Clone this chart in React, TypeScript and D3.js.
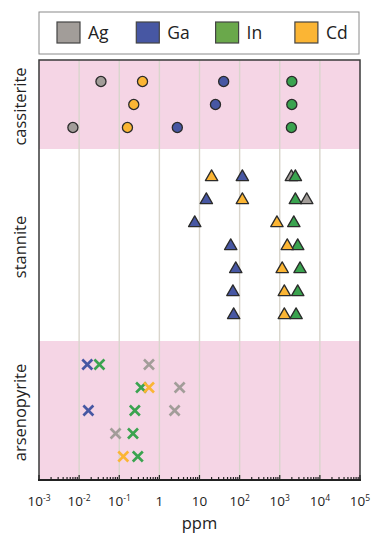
import React from "react";
import { scaleLog, scalePoint, symbol, symbolTriangle, symbolCircle } from "d3";

// minerals shown from top to bottom
const minerals = ["cassiterite", "stannite", "arsenopyrite"];
const elements = ["Ag", "Ga", "In", "Cd"];

// ppm values, one entry per analysed grain (null = not plotted)
const cassiterite = {
  Ag: [0.035, null, 0.007],
  Ga: [40, 25, 2.8],
  In: [2000, 2000, 1950],
  Cd: [0.38, 0.23, 0.16],
};
const stannite = {
  Ag: [1950, 4700, null, null, null, null, null],
  Ga: [117, 14.8, 7.6, 60, 80, 68, 71],
  In: [2450, 2450, 2240, 2800, 3200, 2800, 2550],
  Cd: [20, 117, 850, 1540, 1150, 1300, 1300],
};
const arsenopyrite = {
  Ag: [0.55, 3.2, 2.4, 0.081, null],
  Ga: [0.016, null, 0.017, null, null],
  In: [0.032, 0.35, 0.245, 0.22, 0.29],
  Cd: [null, 0.55, null, null, 0.126],
};
const decades = [-3, -2, -1, 0, 1, 2, 3, 4, 5];

const colors = {
  Ag: "#a29d99",
  Ga: "#4757a3",
  In: "#3aa34f",
  Cd: "#fbb534",
};
const legendColors = { ...colors, In: "#6aa84b" };

const W = 377;
const H = 550;
const left = 39;
const right = 360;
const top = 60;
const bottom = 480;
// band edges for each mineral
const bands = [
  [60, 149],
  [149, 341],
  [341, 480],
];
const rowStep = 23;
const font = "'Open Sans', sans-serif";

const datasets = { cassiterite, stannite, arsenopyrite };
const shapes = { cassiterite: "circle", stannite: "triangle", arsenopyrite: "cross" };

const x = scaleLog().domain([1e-3, 1e5]).range([left, right]);

const triPath = symbol().type(symbolTriangle).size(66)() as string;
const circPath = symbol().type(symbolCircle).size(80)() as string;

function Marker({ shape, color, cx, cy }) {
  if (shape === "circle")
    return <path d={circPath} transform={`translate(${cx},${cy})`} fill={color} stroke="#2b2b2b" strokeWidth={1.3} />;
  if (shape === "triangle")
    return <path d={triPath} transform={`translate(${cx},${cy + 1})`} fill={color} stroke="#2b2b2b" strokeWidth={1.3} strokeLinejoin="round" />;
  const s = 5;
  return (
    <g transform={`translate(${cx},${cy})`} stroke={color} strokeWidth={2.6}>
      <line x1={-s} y1={-s} x2={s} y2={s} />
      <line x1={-s} y1={s} x2={s} y2={-s} />
    </g>
  );
}

export default function App() {
  const minorTicks = x.ticks();
  return (
    <div style={{ position: "absolute", left: 0, top: 0 }}>
      <svg width={W} height={H} style={{ display: "block", background: "#fff" }}>
        {/* legend */}
        <rect x={39} y={12} width={320} height={42} fill="#fff" stroke="#8a8a8a" strokeWidth={1} />
        {elements.map((el, i) => (
          <g key={el} transform={`translate(${57 + i * 79.3},22)`}>
            <rect width={23} height={21} fill={legendColors[el]} stroke="#444" strokeWidth={1.2} />
            <text x={31} y={17} fontFamily={font} fontSize={17.5} fill="#222">{el}</text>
          </g>
        ))}

        {/* bands */}
        {minerals.map((m, i) => (
          <rect key={m} x={left} y={bands[i][0]} width={right - left} height={bands[i][1] - bands[i][0]}
            fill={i === 1 ? "#fff" : "#f5d5e5"} />
        ))}

        {/* grid */}
        {decades.slice(1, -1).map((d) => (
          <line key={d} x1={x(10 ** d)} x2={x(10 ** d)} y1={top} y2={bottom} stroke="#d9d5cc" strokeWidth={1.4} />
        ))}

        {/* points */}
        {minerals.map((m, i) => {
          const data = datasets[m];
          const n = data.In.length;
          const c = (bands[i][0] + bands[i][1]) / 2;
          const y = scalePoint<number>()
            .domain(data.In.map((_, k) => k))
            .range([c - ((n - 1) * rowStep) / 2, c + ((n - 1) * rowStep) / 2]);
          return (
            <g key={m}>
              {elements.map((el) =>
                data[el].map((v, k) =>
                  v == null ? null : (
                    <Marker key={el + k} shape={shapes[m]} color={colors[el]} cx={x(v)} cy={y(k)} />
                  )
                )
              )}
            </g>
          );
        })}

        {/* frame */}
        <rect x={left} y={top} width={right - left} height={bottom - top} fill="none" stroke="#3a3a3a" strokeWidth={1.5} />
        <line x1={left - 1} x2={right + 1} y1={bottom} y2={bottom} stroke="#222" strokeWidth={2.2} />

        {/* ticks */}
        {minorTicks.map((t, i) => {
          const major = Math.abs(Math.log10(t) - Math.round(Math.log10(t))) < 1e-6;
          return (
            <line key={i} x1={x(t)} x2={x(t)} y1={bottom} y2={bottom - (major ? 5 : 3)} stroke="#222" strokeWidth={1.2} />
          );
        })}
        {decades.map((d) => (
          <text key={d} x={x(10 ** d)} y={506} textAnchor="middle" fontFamily={font} fontSize={13.5} fill="#222">
            {d === 0 ? "1" : d === 1 ? "10" : (
              <>
                10<tspan dy={-5} fontSize={8.5}>{d < 0 ? "-" + -d : String(d)}</tspan>
              </>
            )}
          </text>
        ))}
        <text x={(left + right) / 2} y={529} textAnchor="middle" fontFamily={font} fontSize={16.5} fill="#222">ppm</text>

        {/* mineral labels */}
        {minerals.map((m, i) => (
          <text key={m} transform={`translate(26,${(bands[i][0] + bands[i][1]) / 2 + 2}) rotate(-90)`}
            textAnchor="middle" fontFamily={font} fontSize={16.5} fill="#222">{m}</text>
        ))}
      </svg>
    </div>
  );
}
